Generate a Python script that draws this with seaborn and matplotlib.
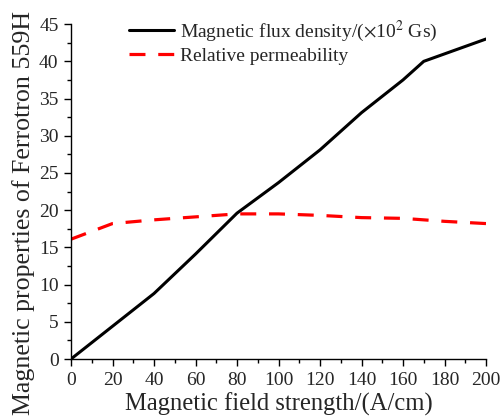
import matplotlib
matplotlib.use("Agg")
import matplotlib.pyplot as plt
import seaborn as sns
import pandas as pd
from matplotlib.ticker import MultipleLocator

field = [0, 20, 40, 60, 80, 100, 120, 140, 160, 170, 180, 200]
flux = [0, 4.4, 8.8, 14.1, 19.6, 23.7, 28.1, 33.1, 37.5, 40.0, 41.0, 43.0]
perm_field = [0, 20, 40, 60, 80, 100, 120, 140, 160, 180, 200]
perm = [16.1, 18.2, 18.7, 19.1, 19.5, 19.5, 19.3, 19.0, 18.9, 18.5, 18.2]

sns.set_theme(style="ticks")
plt.rcParams['font.family'] = ['Liberation Serif', 'DejaVu Serif']
plt.rcParams['mathtext.fontset'] = 'stix'

fig = plt.figure(figsize=(5, 4.16), dpi=100)
ax = fig.add_axes([0.142, 0.137, 0.83, 0.805])

df1 = pd.DataFrame({"H": field, "B": flux})
df2 = pd.DataFrame({"H": perm_field, "mu": perm})
sns.lineplot(data=df1, x="H", y="B", ax=ax, color="black", lw=2.2,
             label=r"Magnetic flux density/($\times$10$^2$ Gs)")
sns.lineplot(data=df2, x="H", y="mu", ax=ax, color="red", lw=2.3,
             linestyle=(0, (5, 4)), label="Relative permeability")

ax.set_xlim(0, 200)
ax.set_ylim(0, 45)
ax.xaxis.set_major_locator(MultipleLocator(20))
ax.xaxis.set_minor_locator(MultipleLocator(10))
ax.yaxis.set_major_locator(MultipleLocator(5))
ax.yaxis.set_minor_locator(MultipleLocator(2.5))
ax.tick_params(which="major", length=5, width=1, labelsize=14, direction="out", color="black", pad=4)
ax.tick_params(which="minor", length=3, width=1, direction="out", color="black")
for s in ["top", "right"]:
    ax.spines[s].set_visible(False)
for s in ["left", "bottom"]:
    ax.spines[s].set_color("black")
    ax.spines[s].set_linewidth(1)

ax.set_xlabel("Magnetic field strength/(A/cm)", fontsize=17.7, labelpad=3)
ax.set_ylabel("Magnetic properties of Ferrotron 559H", fontsize=18.6)
ax.yaxis.set_label_coords(-0.087, 0.437)

leg = ax.legend(loc="upper left", bbox_to_anchor=(0.122, 1.04), frameon=False,
                fontsize=14, handlelength=2.3, handletextpad=0.3,
                labelspacing=0.2, borderaxespad=0)

fig.savefig("out.png", dpi=100)
